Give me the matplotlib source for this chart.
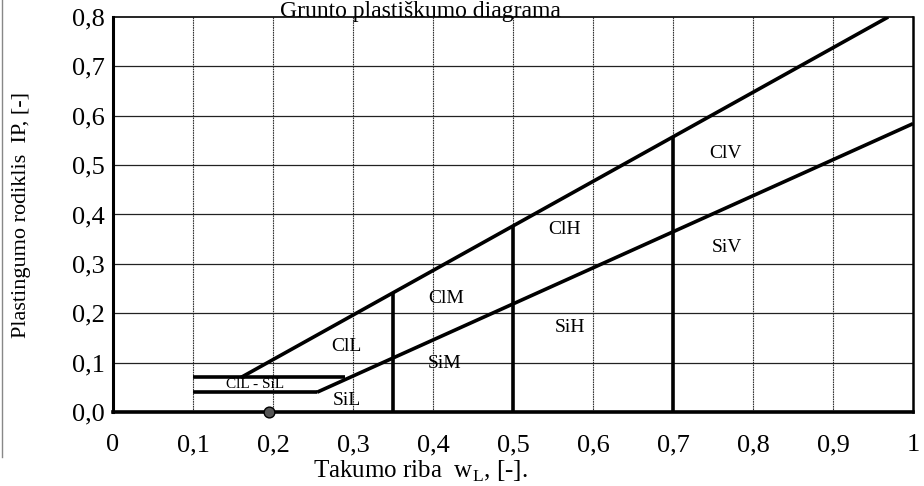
import matplotlib.pyplot as plt
from matplotlib.lines import Line2D

plt.rcParams['font.family'] = ['Liberation Serif', 'DejaVu Serif']

# boundary lines of the plasticity chart
u_x = [0.16, 0.969]          # upper line
u_y = [0.07, 0.80]
a_x = [0.255, 1.0]           # A-line
a_y = [0.04, 0.584]
h1_x = [0.10, 0.29]          # IP = 0.07
h1_y = [0.07, 0.07]
h2_x = [0.10, 0.255]         # IP = 0.04
h2_y = [0.04, 0.04]
v_x = [0.35, 0.50, 0.70]     # vertical dividers
v_top = [0.243, 0.378, 0.558]

dot_x = [0.195]
dot_y = [0.0]

zone_names = ['ClV', 'ClH', 'SiV', 'SiH', 'ClM', 'SiM', 'ClL', 'SiL']
zone_x = [0.765, 0.564, 0.767, 0.571, 0.417, 0.415, 0.292, 0.292]
zone_y = [0.524, 0.369, 0.334, 0.172, 0.229, 0.099, 0.132, 0.024]

x_ticks = [0, 0.1, 0.2, 0.3, 0.4, 0.5, 0.6, 0.7, 0.8, 0.9, 1.0]
x_labels = ['0', '0,1', '0,2', '0,3', '0,4', '0,5', '0,6', '0,7', '0,8', '0,9', '1']
y_ticks = [0, 0.1, 0.2, 0.3, 0.4, 0.5, 0.6, 0.7, 0.8]
y_labels = ['0,0', '0,1', '0,2', '0,3', '0,4', '0,5', '0,6', '0,7', '0,8']

fig = plt.figure(figsize=(9.24, 4.86), dpi=100)
ax = fig.add_axes([113 / 924, 1 - 412 / 486, 800 / 924, 395 / 486])
ax.set_xlim(0, 1)
ax.set_ylim(0, 0.8)

# grid
for x in x_ticks[1:-1]:
    ax.axvline(x, color='#333333', lw=0.8, ls=(0, (1.5, 0.7)), zorder=1)
for y in y_ticks[1:-1]:
    ax.axhline(y, color='#222222', lw=0.9, zorder=1)

lw = 2.6
ax.plot(u_x, u_y, color='black', lw=lw, solid_capstyle='butt', zorder=3)
ax.plot(a_x, a_y, color='black', lw=lw, solid_capstyle='butt', zorder=3)
ax.plot(h1_x, h1_y, color='black', lw=lw, solid_capstyle='butt', zorder=3)
ax.plot(h2_x, h2_y, color='black', lw=lw, solid_capstyle='butt', zorder=3)
ax.vlines(v_x, 0, v_top, color='black', lw=lw, zorder=3)
ax.scatter(dot_x, dot_y, s=60, color='#555555', edgecolor='black', lw=1, zorder=5, clip_on=False)

for name, x, y in zip(zone_names, zone_x, zone_y):
    ax.text(x, y, name, ha='center', va='center', fontsize=14, zorder=4)
ax.text(0.178, 0.056, 'ClL - SiL', ha='center', va='center', fontsize=11, zorder=4)

ax.set_xticks(x_ticks)
ax.set_xticklabels(x_labels)
ax.set_yticks(y_ticks)
ax.set_yticklabels(y_labels)
ax.tick_params(length=0, labelsize=19)
ax.tick_params(axis='x', pad=16)
ax.tick_params(axis='y', pad=6)

ax.spines['left'].set_linewidth(2.2)
ax.spines['bottom'].set_linewidth(2.6)
ax.spines['right'].set_linewidth(1.8)
ax.spines['top'].set_linewidth(1.2)

fig.text(22 / 924, 1 - 215 / 486, 'Plastingumo rodiklis  IP, [-]', rotation=90,
         ha='center', va='center', fontsize=16)
fig.text(420 / 924, 1 - 471 / 486, 'Takumo riba  w$_\\mathregular{L}$, [-].',
         ha='center', va='center', fontsize=18)
fig.text(420 / 924, 1 - 1 / 486, 'Grunto plastiškumo diagrama',
         ha='center', va='top', fontsize=17)

# scan border at left
fig.add_artist(Line2D([2 / 924, 2 / 924], [0.06, 1], color='#888888', lw=1))

fig.savefig('out.png', dpi=100)
